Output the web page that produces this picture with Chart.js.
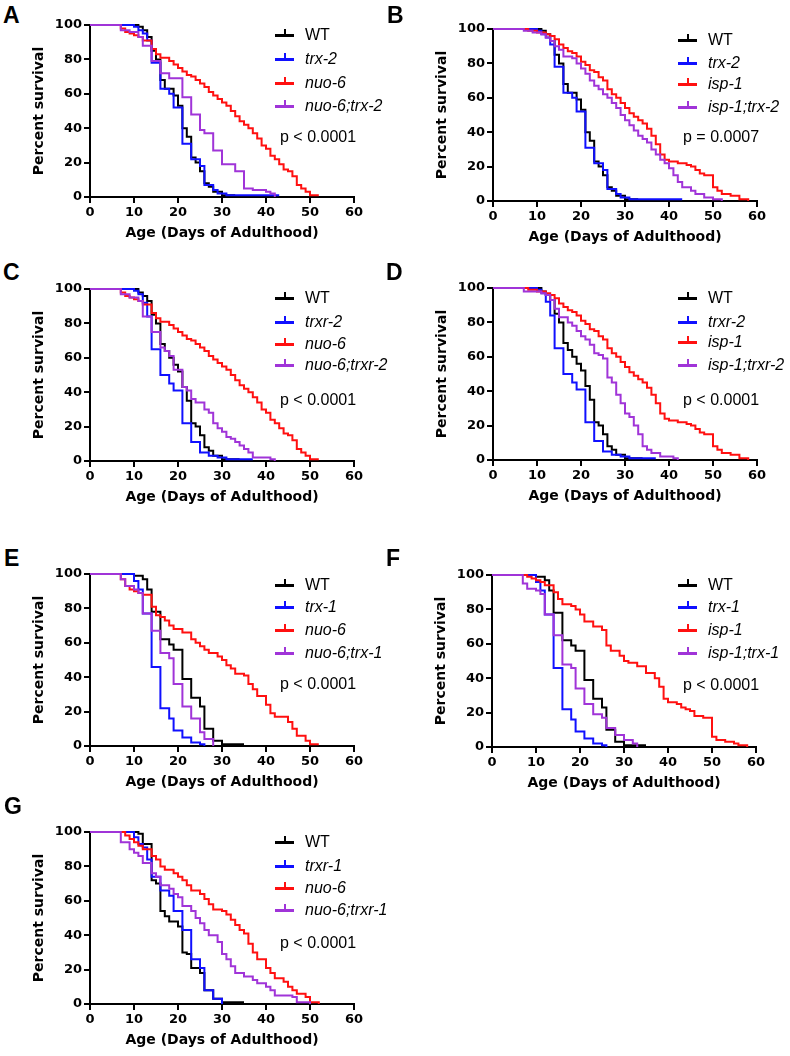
<!DOCTYPE html>
<html>
<head>
<meta charset="utf-8">
<script src="https://cdn.jsdelivr.net/npm/chart.js@4.4.1/dist/chart.umd.min.js"></script>
<style>
  body { margin: 0; background: #fff; }
  #fig { position: relative; width: 790px; height: 1056px; overflow: hidden; background: #fff; }
  canvas.panel { position: absolute; }
  .letter { position: absolute; font: bold 23px "Liberation Sans", Arial, sans-serif; line-height: 23px; color: #000; }
  .leg { position: absolute; height: 18px; font: 16px "Liberation Sans", Arial, sans-serif; line-height: 18px; white-space: nowrap; color: #000; }
  .leg .ln { position: absolute; left: 0; top: 7.5px; width: 19px; height: 3px; }
  .leg .tk { position: absolute; left: 8.5px; top: 3px; width: 2px; height: 6px; }
  .leg .tx { position: absolute; left: 30px; top: 0; }
  .pval { position: absolute; font: 16px "Liberation Sans", Arial, sans-serif; line-height: 18px; white-space: nowrap; color: #000; }
</style>
</head>
<body>
<div id="fig"></div>
<script>
// survival curves: day of each drop and percent surviving after it
const wtAB_days = [0, 11, 12, 13, 14, 15, 16, 17, 19, 20, 21, 22, 23, 24, 25, 26, 27, 28, 30, 33];
const wtAB_surv = [100, 99, 97, 93, 85, 80, 68, 63, 59, 53, 40, 35, 23, 20, 15, 8, 6, 3, 1, 1];
const trx2_days = [0, 10, 11, 12, 13, 14, 16, 18, 19, 21, 23, 25, 26, 28, 29, 31, 43];
const trx2_surv = [100, 99, 97, 95, 91, 78, 63, 60, 52, 31, 22, 18, 7, 4, 2, 1, 1];
const nuo6AC_days = [0, 7, 8, 9, 10, 11, 12, 14, 15, 16, 18, 19, 20, 21, 22, 23, 24, 25, 26, 27, 28, 29, 30, 31, 32, 33, 34, 35, 36, 37, 38, 39, 40, 41, 42, 43, 44, 45, 46, 47, 48, 49, 50, 52];
const nuo6AC_surv = [100, 98, 96, 95, 94, 93, 91, 86, 83, 81, 79, 77, 75, 73, 71, 70, 68, 66, 64, 61, 59, 57, 55, 53, 50, 47, 44, 42, 40, 37, 34, 30, 28, 24, 22, 19, 16, 15, 12, 7, 5, 3, 1, 1];
const nuo6trx2_days = [0, 7, 9, 11, 12, 14, 16, 18, 21, 23, 25, 26, 28, 30, 33, 35, 37, 40, 41, 42];
const nuo6trx2_surv = [100, 97, 96, 93, 88, 79, 72, 69, 58, 48, 39, 37, 27, 19, 15, 5, 4, 3, 2, 0];

const isp1BD_days = [0, 8, 10, 12, 13, 14, 15, 16, 17, 18, 19, 20, 21, 22, 23, 24, 25, 26, 27, 28, 29, 30, 31, 32, 33, 34, 35, 36, 37, 38, 39, 40, 42, 44, 45, 46, 47, 48, 50, 51, 52, 54, 56, 58];
const isp1BD_surv = [100, 99, 98, 97, 96, 94, 91, 89, 87, 86, 84, 81, 79, 76, 75, 72, 70, 65, 62, 60, 57, 54, 51, 49, 47, 45, 42, 38, 33, 27, 24, 23, 22, 21, 20, 18, 16, 15, 8, 6, 4, 3, 1, 0];
const isp1trx2_days = [0, 7, 9, 11, 12, 13, 14, 15, 16, 18, 19, 20, 21, 22, 23, 24, 25, 26, 27, 28, 29, 30, 31, 32, 33, 34, 35, 36, 37, 38, 39, 40, 41, 42, 43, 45, 46, 48, 50, 52];
const isp1trx2_surv = [100, 99, 98, 97, 95, 93, 90, 88, 84, 83, 80, 77, 74, 70, 67, 65, 62, 60, 57, 54, 50, 47, 44, 41, 38, 36, 34, 30, 27, 24, 22, 19, 15, 11, 8, 6, 4, 2, 1, 0];

const wtCD_days = [0, 11, 12, 13, 14, 15, 16, 17, 18, 19, 20, 21, 22, 23, 24, 25, 26, 27, 28, 30, 34];
const wtCD_surv = [100, 98, 96, 93, 85, 80, 68, 64, 60, 56, 52, 43, 35, 22, 20, 15, 8, 6, 3, 1, 1];
const trxr2_days = [0, 10, 11, 12, 13, 14, 16, 18, 19, 21, 23, 25, 27, 29, 31, 37];
const trxr2_surv = [100, 99, 97, 92, 84, 65, 50, 45, 41, 22, 11, 5, 3, 2, 1, 1];
const nuo6trxr2_days = [0, 7, 9, 11, 12, 14, 16, 17, 18, 19, 21, 22, 23, 24, 26, 27, 28, 29, 30, 31, 32, 33, 34, 35, 36, 37, 41, 42];
const nuo6trxr2_surv = [100, 97, 95, 93, 84, 75, 66, 64, 61, 53, 43, 41, 36, 34, 30, 28, 22, 19, 17, 14, 13, 11, 9, 7, 5, 2, 1, 0];
const isp1trxr2_days = [0, 7, 11, 12, 13, 14, 15, 17, 18, 19, 20, 21, 22, 23, 24, 25, 26, 27, 28, 29, 30, 31, 32, 33, 34, 35, 36, 38, 41, 42];
const isp1trxr2_surv = [100, 98, 97, 96, 93, 88, 83, 80, 78, 75, 72, 70, 67, 62, 61, 59, 48, 45, 38, 33, 27, 25, 20, 15, 8, 6, 4, 2, 1, 0];

const wtEF_days = [0, 10, 12, 13, 14, 16, 18, 19, 21, 23, 25, 26, 28, 30, 35];
const wtEF_surv = [100, 99, 97, 91, 78, 62, 59, 56, 39, 28, 23, 10, 3, 1, 1];
const trx1_days = [0, 10, 11, 12, 14, 16, 18, 19, 21, 23, 25, 26];
const trx1_surv = [100, 96, 91, 77, 46, 22, 16, 9, 5, 2, 1, 0];
const nuo6E_days = [0, 7, 8, 9, 10, 11, 12, 14, 15, 16, 17, 18, 19, 21, 23, 24, 25, 26, 27, 29, 30, 31, 32, 33, 35, 36, 37, 38, 40, 41, 42, 45, 46, 47, 49, 50, 52];
const nuo6E_surv = [100, 97, 93, 91, 90, 89, 88, 81, 76, 75, 73, 70, 68, 66, 62, 60, 58, 56, 54, 52, 50, 47, 45, 42, 41, 36, 33, 29, 24, 19, 17, 14, 10, 6, 3, 1, 1];
const nuo6trx1_days = [0, 7, 8, 10, 11, 12, 14, 16, 18, 19, 21, 23, 25, 26, 28];
const nuo6trx1_surv = [100, 97, 93, 91, 89, 77, 67, 54, 51, 36, 23, 16, 8, 4, 0];
const isp1F_days = [0, 8, 9, 10, 11, 12, 14, 15, 16, 18, 19, 20, 21, 23, 25, 26, 27, 29, 30, 31, 33, 35, 37, 38, 39, 40, 42, 43, 44, 45, 46, 48, 50, 51, 53, 55, 56, 58];
const isp1F_surv = [100, 99, 98, 97, 96, 94, 90, 86, 83, 82, 80, 77, 73, 70, 68, 59, 56, 53, 50, 49, 47, 43, 40, 35, 28, 26, 25, 23, 22, 21, 18, 17, 6, 4, 3, 2, 1, 0];
const isp1trx1_days = [0, 7, 8, 10, 11, 12, 14, 16, 18, 19, 21, 23, 25, 26, 28, 30, 32, 33];
const isp1trx1_surv = [100, 95, 92, 91, 89, 77, 65, 48, 46, 34, 25, 19, 17, 11, 7, 4, 2, 0];

const wtG_days = [0, 11, 12, 14, 15, 16, 17, 18, 20, 21, 22, 23, 25, 26, 28, 30, 35];
const wtG_surv = [100, 99, 93, 72, 70, 54, 51, 48, 45, 30, 29, 21, 18, 8, 3, 1, 1];
const trxr1_days = [0, 10, 11, 12, 13, 14, 16, 18, 19, 21, 23, 25, 26, 28, 30];
const trxr1_surv = [100, 97, 93, 91, 84, 74, 66, 63, 54, 43, 26, 21, 8, 3, 0];
const nuo6G_days = [0, 8, 9, 10, 11, 12, 14, 15, 16, 17, 19, 20, 21, 22, 23, 25, 26, 27, 28, 30, 31, 32, 33, 34, 35, 36, 37, 38, 40, 41, 42, 44, 45, 46, 47, 49, 50, 52];
const nuo6G_surv = [100, 98, 96, 94, 92, 90, 86, 84, 80, 78, 76, 74, 72, 69, 66, 64, 61, 58, 55, 54, 52, 49, 46, 43, 41, 35, 30, 26, 21, 18, 15, 13, 10, 8, 6, 4, 1, 0];
const nuo6trxr1_days = [0, 7, 9, 10, 11, 12, 14, 15, 16, 18, 19, 20, 21, 23, 24, 25, 26, 27, 29, 30, 31, 32, 33, 35, 37, 38, 40, 41, 42, 46, 47, 50];
const nuo6trxr1_surv = [100, 94, 90, 88, 86, 82, 76, 74, 69, 67, 64, 62, 57, 54, 50, 47, 43, 40, 36, 29, 26, 22, 18, 16, 14, 12, 10, 8, 5, 4, 1, 0];

const xTicks = [0, 10, 20, 30, 40, 50, 60];
const yTicks = [0, 20, 40, 60, 80, 100];

const BLACK = "#000000", BLUE = "#1010ff", RED = "#ff1010", PURPLE = "#a034d8";

function s(label, italic, color, days, surv) {
  return { label, italic, color, days, surv };
}

const panels = [
  { letter: "A", lx: 3, ly: 4, cx: 0, cy: 0, legX: 275, legY: [35, 59, 83, 106], p: "p < 0.0001", px: 280, py: 137,
    series: [s("WT", false, BLACK, wtAB_days, wtAB_surv), s("trx-2", true, BLUE, trx2_days, trx2_surv),
             s("nuo-6", true, RED, nuo6AC_days, nuo6AC_surv), s("nuo-6;trx-2", true, PURPLE, nuo6trx2_days, nuo6trx2_surv)] },
  { letter: "B", lx: 387, ly: 4, cx: 403, cy: 4, legX: 678, legY: [40, 63, 84, 107], p: "p = 0.0007", px: 683, py: 137,
    series: [s("WT", false, BLACK, wtAB_days, wtAB_surv), s("trx-2", true, BLUE, trx2_days, trx2_surv),
             s("isp-1", true, RED, isp1BD_days, isp1BD_surv), s("isp-1;trx-2", true, PURPLE, isp1trx2_days, isp1trx2_surv)] },
  { letter: "C", lx: 3, ly: 261, cx: 0, cy: 264, legX: 275, legY: [298, 322, 344, 365], p: "p < 0.0001", px: 280, py: 400,
    series: [s("WT", false, BLACK, wtCD_days, wtCD_surv), s("trxr-2", true, BLUE, trxr2_days, trxr2_surv),
             s("nuo-6", true, RED, nuo6AC_days, nuo6AC_surv), s("nuo-6;trxr-2", true, PURPLE, nuo6trxr2_days, nuo6trxr2_surv)] },
  { letter: "D", lx: 386, ly: 261, cx: 403, cy: 263, legX: 678, legY: [298, 322, 342, 365], p: "p < 0.0001", px: 683, py: 400,
    series: [s("WT", false, BLACK, wtCD_days, wtCD_surv), s("trxr-2", true, BLUE, trxr2_days, trxr2_surv),
             s("isp-1", true, RED, isp1BD_days, isp1BD_surv), s("isp-1;trxr-2", true, PURPLE, isp1trxr2_days, isp1trxr2_surv)] },
  { letter: "E", lx: 4, ly: 547, cx: 0, cy: 549, legX: 275, legY: [585, 607, 630, 653], p: "p < 0.0001", px: 280, py: 684,
    series: [s("WT", false, BLACK, wtEF_days, wtEF_surv), s("trx-1", true, BLUE, trx1_days, trx1_surv),
             s("nuo-6", true, RED, nuo6E_days, nuo6E_surv), s("nuo-6;trx-1", true, PURPLE, nuo6trx1_days, nuo6trx1_surv)] },
  { letter: "F", lx: 386, ly: 547, cx: 402, cy: 550, legX: 678, legY: [585, 607, 630, 653], p: "p < 0.0001", px: 683, py: 685,
    series: [s("WT", false, BLACK, wtEF_days, wtEF_surv), s("trx-1", true, BLUE, trx1_days, trx1_surv),
             s("isp-1", true, RED, isp1F_days, isp1F_surv), s("isp-1;trx-1", true, PURPLE, isp1trx1_days, isp1trx1_surv)] },
  { letter: "G", lx: 4, ly: 795, cx: 0, cy: 807, legX: 275, legY: [842, 866, 888, 910], p: "p < 0.0001", px: 280, py: 943,
    series: [s("WT", false, BLACK, wtG_days, wtG_surv), s("trxr-1", true, BLUE, trxr1_days, trxr1_surv),
             s("nuo-6", true, RED, nuo6G_days, nuo6G_surv), s("nuo-6;trxr-1", true, PURPLE, nuo6trxr1_days, nuo6trxr1_surv)] }
];

const fig = document.getElementById("fig");
const tickFont = { family: "'DejaVu Sans', sans-serif", weight: "bold", size: 13 };
const titleFont = { family: "'DejaVu Sans', sans-serif", weight: "bold", size: 14 };

function addDiv(cls, left, top, html) {
  const d = document.createElement("div");
  d.className = cls;
  d.style.left = left + "px";
  d.style.top = top + "px";
  d.innerHTML = html;
  fig.appendChild(d);
  return d;
}

panels.forEach((p) => {
  addDiv("letter", p.lx, p.ly, p.letter);

  const cv = document.createElement("canvas");
  cv.className = "panel";
  cv.width = 395;
  cv.height = 250;
  cv.style.left = p.cx + "px";
  cv.style.top = p.cy + "px";
  fig.appendChild(cv);

  p.series.forEach((sr, i) => {
    const d = addDiv("leg", p.legX, p.legY[i] - 9, "");
    d.innerHTML =
      '<span class="ln" style="background:' + sr.color + '"></span>' +
      '<span class="tk" style="background:' + sr.color + '"></span>' +
      '<span class="tx" style="font-style:' + (sr.italic ? "italic" : "normal") + '">' + sr.label + "</span>";
  });
  addDiv("pval", p.px, p.py - 9, p.p);

  new Chart(cv, {
    type: "line",
    data: {
      // later series drawn on top, as in the original
      datasets: p.series.map((sr, i) => ({
        label: sr.label,
        data: sr.days.map((d, k) => ({ x: d, y: sr.surv[k] })),
        borderColor: sr.color,
        backgroundColor: sr.color,
        borderWidth: 2,
        stepped: true,
        pointRadius: 0,
        fill: false,
        clip: 4,
        order: p.series.length - i
      }))
    },
    options: {
      responsive: false,
      animation: false,
      layout: { padding: { top: 25, right: 41, left: 0, bottom: 0 } },
      plugins: { legend: { display: false }, tooltip: { enabled: false } },
      scales: {
        x: {
          type: "linear",
          min: xTicks[0],
          max: xTicks[xTicks.length - 1],
          afterBuildTicks: (sc) => { sc.ticks = xTicks.map((v) => ({ value: v })); },
          ticks: { color: "#000", font: tickFont, padding: 2, maxRotation: 0 },
          grid: { display: true, drawOnChartArea: false, drawTicks: true, tickLength: 6, color: "#000", lineWidth: 2 },
          border: { display: true, color: "#000", width: 2 },
          title: { display: true, text: "Age (Days of Adulthood)", color: "#000", font: titleFont, padding: { top: 0, bottom: 8 } },
          afterFit: (sc) => { sc.height = 53; }
        },
        y: {
          min: yTicks[0],
          max: yTicks[yTicks.length - 1],
          afterBuildTicks: (sc) => { sc.ticks = yTicks.map((v) => ({ value: v })); },
          ticks: { color: "#000", font: tickFont, padding: 2 },
          grid: { display: true, drawOnChartArea: false, drawTicks: true, tickLength: 6, color: "#000", lineWidth: 2 },
          border: { display: true, color: "#000", width: 2 },
          title: { display: true, text: "Percent survival", color: "#000", font: titleFont, padding: { top: 31, bottom: 0 } },
          afterFit: (sc) => { sc.width = 90; }
        }
      }
    }
  });
});
</script>
</body>
</html>
